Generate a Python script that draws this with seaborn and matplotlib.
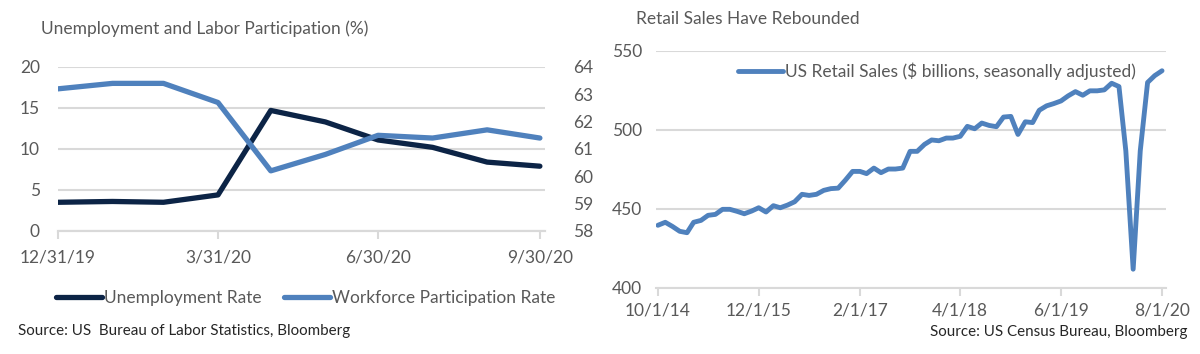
import matplotlib
matplotlib.use("Agg")
import matplotlib.pyplot as plt
import seaborn as sns
import pandas as pd

# --------------------------------------------------
# Data
# --------------------------------------------------
labor_dates = ["2019-12-31", "2020-01-31", "2020-02-29", "2020-03-31", "2020-04-30",
               "2020-05-31", "2020-06-30", "2020-07-31", "2020-08-31", "2020-09-30"]
unemployment_rate = [3.5, 3.6, 3.5, 4.4, 14.7, 13.3, 11.1, 10.2, 8.4, 7.9]
participation_rate = [63.2, 63.4, 63.4, 62.7, 60.2, 60.8, 61.5, 61.4, 61.7, 61.4]
labor_ticks = ["2019-12-31", "2020-03-31", "2020-06-30", "2020-09-30"]
labor_tick_labels = ["12/31/19", "3/31/20", "6/30/20", "9/30/20"]

retail_start = "2014-10-01"
retail_sales = [
    439.5, 441.4, 438.8, 435.7, 434.8, 441.4, 442.6, 445.8, 446.4, 449.6,
    449.6, 448.3, 446.8, 448.5, 450.6, 447.9, 451.9, 450.6, 452.3, 454.4,
    459.1, 458.4, 459.1, 461.6, 462.7, 463.0, 468.0, 473.6, 473.6, 472.2,
    475.7, 472.8, 475.1, 475.1, 475.7, 486.3, 486.3, 490.7, 493.5, 493.0,
    494.7, 494.7, 495.8, 502.1, 500.6, 504.2, 502.7, 501.9, 508.0, 508.4,
    497.0, 505.0, 504.5, 512.3, 515.1, 516.5, 518.2, 521.4, 524.1, 521.8,
    524.6, 524.6, 525.2, 529.4, 527.3, 486.6, 411.7, 486.6, 529.9, 534.2,
    537.3,
]
retail_ticks = ["2014-10-01", "2015-12-01", "2017-02-01", "2018-04-01", "2019-06-01", "2020-08-01"]
retail_tick_labels = ["10/1/14", "12/1/15", "2/1/17", "4/1/18", "6/1/19", "8/1/20"]

labor = pd.DataFrame({
    "date": pd.to_datetime(labor_dates),
    "unemp": unemployment_rate,
    "part": participation_rate,
})
retail = pd.DataFrame({
    "date": pd.date_range(retail_start, periods=len(retail_sales), freq="MS"),
    "sales": retail_sales,
})

# --------------------------------------------------
# Style
# --------------------------------------------------
sns.set_style("white")
plt.rcParams["font.family"] = ["Lato", "DejaVu Sans"]

GRAY = "#595959"
GRID = "#D9D9D9"
NAVY = "#0C2446"
BLUE = "#4F81BD"
FS = 12.5

fig = plt.figure(figsize=(12, 3.54), dpi=100)
ax1 = fig.add_axes([0.0483, 0.3475, 0.406, 0.4633])
ax2 = ax1.twinx()
ax3 = fig.add_axes([0.5467, 0.1873, 0.425, 0.6695])

# --------------------------------------------------
# Left: unemployment / participation
# --------------------------------------------------
sns.lineplot(data=labor, x="date", y="unemp", ax=ax1, color=NAVY, lw=3.8,
             label="Unemployment Rate", legend=False, zorder=3)
sns.lineplot(data=labor, x="date", y="part", ax=ax2, color=BLUE, lw=3.8,
             label="Workforce Participation Rate", legend=False, zorder=3)

ax1.set_ylim(0, 20)
ax1.set_yticks([0, 5, 10, 15, 20])
ax2.set_ylim(58, 64)
ax2.set_yticks([58, 59, 60, 61, 62, 63, 64])
ax1.set_xlim(pd.Timestamp("2019-12-31"), pd.Timestamp("2020-10-03"))
ax1.set_xticks(pd.to_datetime(labor_ticks))
ax1.set_xticklabels(labor_tick_labels)
ax1.grid(axis="y", color=GRID, lw=1.5)
ax1.set_axisbelow(True)

for a in (ax1, ax2):
    a.set_xlabel("")
    a.set_ylabel("")
    for s in ("top", "left", "right"):
        a.spines[s].set_visible(False)
    a.spines["bottom"].set_color(GRID)
    a.spines["bottom"].set_linewidth(1.5)
ax1.tick_params(axis="x", colors=GRAY, labelsize=FS, length=6, width=1.5,
                color=GRID, pad=7, direction="out", bottom=True)
ax1.tick_params(axis="y", colors=GRAY, labelsize=FS, length=0, pad=13)
ax2.tick_params(axis="y", colors=GRAY, labelsize=FS, length=0, pad=20)
ax1.set_title("Unemployment and Labor Participation (%)", loc="left", x=-0.035,
              color=GRAY, fontsize=FS, pad=24)

h1, l1 = ax1.get_legend_handles_labels()
h2, l2 = ax2.get_legend_handles_labels()
fig.legend(h1 + h2, l1 + l2, loc="center", bbox_to_anchor=(0.255, 1 - 298 / 354),
           ncol=2, frameon=False, fontsize=FS, labelcolor=GRAY, handlelength=2.6,
           handletextpad=0.15, columnspacing=1.3)

fig.text(18 / 1200, 1 - 331 / 354, "Source: US  Bureau of Labor Statistics, Bloomberg",
         fontsize=10.9, color="#262626", va="center", ha="left")

# --------------------------------------------------
# Right: retail sales
# --------------------------------------------------
sns.lineplot(data=retail, x="date", y="sales", ax=ax3, color=BLUE, lw=3.5,
             label="US Retail Sales ($ billions, seasonally adjusted)", zorder=3)
ax3.set_ylim(400, 550)
ax3.set_yticks([400, 450, 500, 550])
ax3.set_xlim(pd.Timestamp("2014-09-23"), pd.Timestamp("2020-08-18"))
ax3.set_xticks(pd.to_datetime(retail_ticks))
ax3.set_xticklabels(retail_tick_labels)
ax3.grid(axis="y", color=GRID, lw=1.5)
ax3.set_axisbelow(True)
ax3.set_xlabel("")
ax3.set_ylabel("")
for s in ("top", "left", "right"):
    ax3.spines[s].set_visible(False)
ax3.spines["bottom"].set_color(GRID)
ax3.spines["bottom"].set_linewidth(1.5)
ax3.tick_params(axis="x", colors=GRAY, labelsize=FS, length=6, width=1.5,
                color=GRID, pad=5, bottom=True)
ax3.tick_params(axis="y", colors=GRAY, labelsize=FS, length=0, pad=10)
ax3.set_title("Retail Sales Have Rebounded", loc="left", x=-0.04,
              color=GRAY, fontsize=FS, pad=19)
ax3.legend(loc="center left", bbox_to_anchor=(722 / 1200, 1 - 71 / 354),
           bbox_transform=fig.transFigure, frameon=False, fontsize=FS,
           labelcolor=GRAY, handlelength=2.6, handletextpad=0.15)

fig.text(1188 / 1200, 1 - 332 / 354, "Source: US Census Bureau, Bloomberg",
         fontsize=10.9, color="#262626", va="center", ha="right")

plt.savefig("out.png", dpi=100)
plt.close()
